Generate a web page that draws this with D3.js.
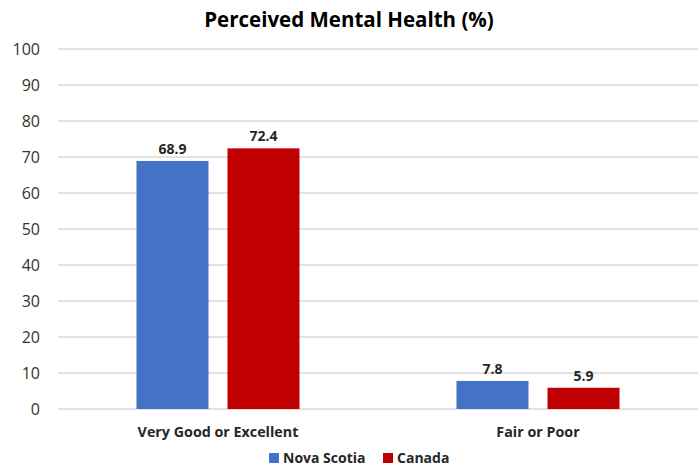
<!DOCTYPE html>
<html>
<head>
<meta charset="utf-8">
<script src="https://cdn.jsdelivr.net/npm/d3@7"></script>
<style>
  body { margin: 0; background: #fff; }
  text { font-family: "Open Sans", sans-serif; fill: #000; }
</style>
</head>
<body>
<div id="chart"></div>
<script>
// chart data
const categories = ["Very Good or Excellent", "Fair or Poor"];
const seriesNames = ["Nova Scotia", "Canada"];
const novaScotia = [68.9, 7.8];
const canada = [72.4, 5.9];
const yTicks = [0, 10, 20, 30, 40, 50, 60, 70, 80, 90, 100];
const colors = ["#4472c4", "#c00000"];

const width = 698, height = 468;
const margin = { top: 49, right: 0, bottom: 59, left: 58 };

const svg = d3.select("#chart")
  .append("svg")
  .attr("width", width)
  .attr("height", height);

const x = d3.scaleBand()
  .domain(categories)
  .range([margin.left, width - margin.right]);

const y = d3.scaleLinear()
  .domain([0, 100])
  .range([height - margin.bottom, margin.top]);

// gridlines
svg.selectAll(".grid")
  .data(yTicks)
  .enter()
  .append("line")
  .attr("x1", margin.left)
  .attr("x2", width - margin.right)
  .attr("y1", d => y(d))
  .attr("y2", d => y(d))
  .attr("stroke", "#d9d9d9")
  .attr("stroke-width", 1.3);

// y labels
svg.selectAll(".ytick")
  .data(yTicks)
  .enter()
  .append("text")
  .attr("x", 40)
  .attr("y", d => y(d))
  .attr("dy", "0.35em")
  .attr("text-anchor", "end")
  .style("font-size", "16px")
  .style("fill", "#333")
  .text(d => d);

// bars
const barW = 72, gap = 19;
const series = [novaScotia, canada];
series.forEach((vals, s) => {
  const offset = s === 0 ? -(gap / 2 + barW) : gap / 2;
  const g = svg.append("g");
  g.selectAll("rect")
    .data(vals)
    .enter()
    .append("rect")
    .attr("x", (d, i) => x(categories[i]) + x.bandwidth() / 2 + offset)
    .attr("y", d => y(d))
    .attr("width", barW)
    .attr("height", d => y(0) - y(d))
    .attr("fill", colors[s]);
  g.selectAll("text")
    .data(vals)
    .enter()
    .append("text")
    .attr("x", (d, i) => x(categories[i]) + x.bandwidth() / 2 + offset + barW / 2)
    .attr("y", d => y(d) - 7)
    .attr("text-anchor", "middle")
    .style("font-size", "14px")
    .style("font-weight", "bold")
    .style("fill", "#262626")
    .text(d => d.toFixed(1));
});

// category labels
svg.selectAll(".cat")
  .data(categories)
  .enter()
  .append("text")
  .attr("x", d => x(d) + x.bandwidth() / 2)
  .attr("y", 437)
  .attr("text-anchor", "middle")
  .style("font-size", "14.3px")
  .style("font-weight", "bold")
  .style("fill", "#262626")
  .text(d => d);

// title
svg.append("text")
  .attr("x", width / 2)
  .attr("y", 27)
  .attr("text-anchor", "middle")
  .style("font-size", "20.5px")
  .style("font-weight", "bold")
  .text("Perceived Mental Health (%)");

// legend
const legendX = [269, 383];
seriesNames.forEach((name, i) => {
  svg.append("rect")
    .attr("x", legendX[i])
    .attr("y", 453)
    .attr("width", 10)
    .attr("height", 10)
    .attr("fill", colors[i]);
  svg.append("text")
    .attr("x", legendX[i] + 14)
    .attr("y", 463)
    .style("font-size", "14px")
    .style("font-weight", "bold")
    .style("fill", "#262626")
    .text(name);
});
</script>
</body>
</html>
